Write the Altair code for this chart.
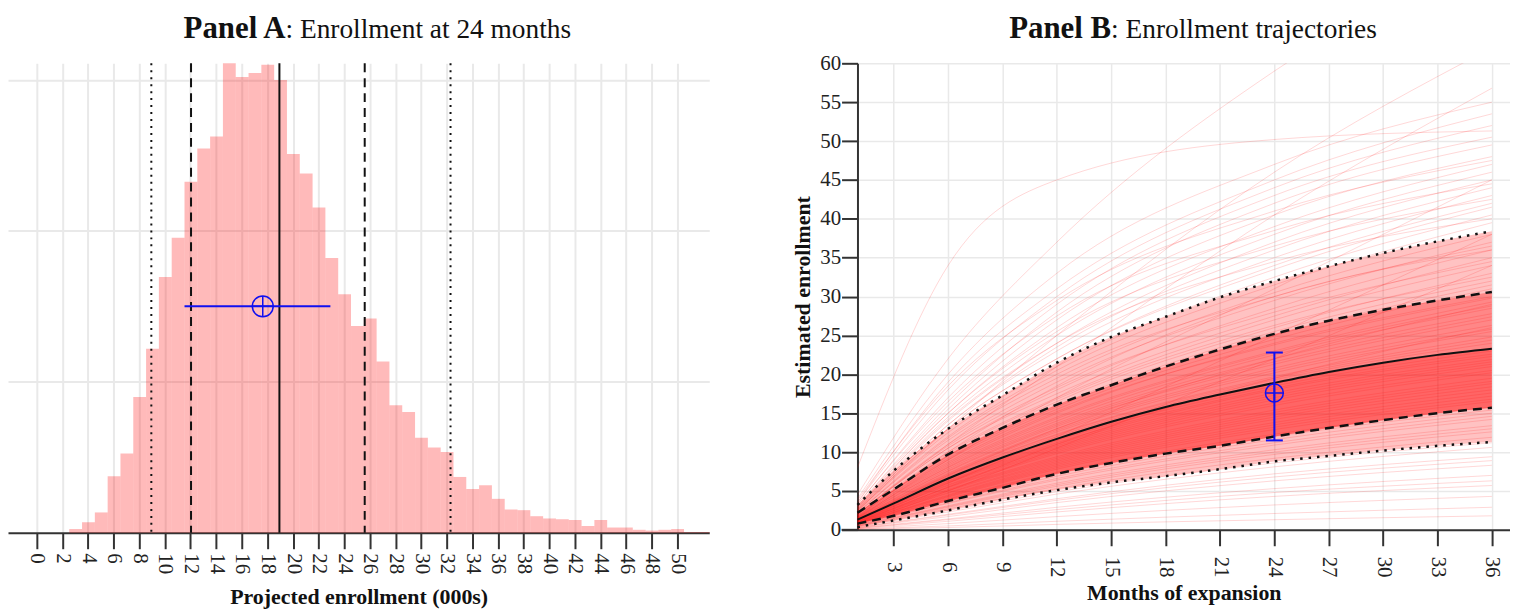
import altair as alt
import pandas as pd

FONT = "Liberation Serif"

# ---------------- Panel A data ----------------
hist_bin = list(range(3, 53))
hist_density = [0.0005, 0.0014, 0.0027, 0.0075, 0.0105, 0.0180, 0.0244, 0.0339, 0.0391, 0.0465,
                0.0509, 0.0525, 0.0622, 0.0604, 0.0609, 0.0620, 0.0600, 0.0502, 0.0476, 0.0431,
                0.0364, 0.0316, 0.0274, 0.0284, 0.0227, 0.0169, 0.0160, 0.0126, 0.0113, 0.0107,
                0.0074, 0.0058, 0.0063, 0.0045, 0.0031, 0.0030, 0.0022, 0.0019, 0.0018, 0.0017,
                0.0009, 0.0017, 0.0007, 0.0007, 0.0004, 0.0003, 0.0004, 0.0005, 0.0001, 0.0001]
a_dotted = [8.94, 32.3]
a_dashed = [12.04, 25.6]
a_median = [18.94]
a_mean, a_ci_lo, a_ci_hi, a_ci_y = 17.64, 11.53, 22.92, 0.030
a_xticks = list(range(0, 51, 2))
a_ygrid = [0.02, 0.04, 0.06]

# ---------------- Panel B data ----------------
months = [1, 3, 6, 9, 12, 15, 18, 21, 24, 27, 30, 33, 36]
q05 = [0.35, 1.2, 2.5, 3.9, 5.1, 6.1, 6.9, 7.8, 8.8, 9.5, 10.2, 10.8, 11.3]
q25 = [0.8, 1.8, 3.7, 5.4, 7.2, 8.6, 9.8, 10.8, 12.0, 13.1, 14.1, 15.0, 15.7]
q50 = [1.3, 3.4, 6.6, 9.3, 11.7, 13.9, 15.8, 17.4, 18.9, 20.3, 21.5, 22.5, 23.3]
q75 = [2.2, 5.2, 9.7, 13.1, 16.1, 18.6, 21.0, 23.2, 25.2, 26.9, 28.3, 29.5, 30.6]
q95 = [3.2, 7.6, 13.0, 17.3, 21.5, 24.8, 27.4, 29.9, 32.0, 33.9, 35.6, 37.1, 38.4]

traj_months = [1, 6, 12, 24, 36]
traj_values = [
    [8.0, 34.0, 45.0, 50.2, 51.3], [4.5, 22.0, 37.0, 59.0, 75.0], [2.5, 13.0, 25.0, 46.0, 62.0],
    [2.0, 11.0, 21.0, 40.5, 56.8], [4.0, 20.0, 33.0, 47.0, 55.0], [3.5, 19.0, 31.0, 45.0, 53.5],
    [3.5, 18.0, 30.0, 44.0, 52.0], [3.2, 17.0, 29.0, 43.0, 50.5], [3.0, 16.0, 28.0, 42.0, 49.5],
    [3.0, 15.5, 27.0, 40.5, 48.0], [2.8, 15.0, 26.0, 39.0, 47.0], [2.8, 14.5, 25.0, 38.0, 46.0],
    [2.6, 14.0, 24.0, 37.0, 45.0], [1.5, 9.0, 17.0, 31.0, 45.0], [2.6, 13.5, 23.5, 36.0, 44.0],
    [2.5, 13.5, 23.0, 35.0, 43.0], [2.4, 13.0, 22.0, 34.0, 42.0], [2.4, 13.0, 22.0, 33.5, 41.5],
    [2.3, 12.5, 21.0, 32.5, 40.5], [2.2, 12.0, 20.5, 31.5, 39.5], [1.0, 6.0, 12.0, 25.0, 38.0],
    [2.2, 11.5, 19.5, 30.5, 38.0], [2.0, 11.0, 19.0, 29.5, 37.0], [2.0, 10.5, 18.0, 28.5, 36.0],
    [1.9, 10.5, 17.5, 27.5, 35.0], [0.8, 5.0, 10.5, 22.0, 34.0], [1.8, 10.0, 17.0, 27.0, 34.0],
    [1.8, 9.5, 16.5, 26.0, 33.0], [1.7, 9.5, 16.0, 25.5, 32.0], [1.6, 9.0, 15.5, 24.5, 31.0],
    [1.6, 8.5, 15.0, 24.0, 30.0], [1.5, 8.3, 14.5, 23.0, 29.3], [1.5, 8.0, 14.0, 22.5, 28.5],
    [1.4, 7.8, 13.7, 22.0, 27.8], [1.4, 7.5, 13.3, 21.3, 27.0], [1.4, 7.3, 13.0, 20.8, 26.3],
    [1.3, 7.1, 12.6, 20.2, 25.5], [1.3, 7.0, 12.3, 19.7, 24.8], [1.3, 6.8, 12.0, 19.3, 24.0],
    [1.2, 6.5, 11.5, 18.5, 23.0], [1.2, 6.2, 11.0, 18.0, 22.3], [1.1, 6.0, 10.6, 17.3, 21.6],
    [1.1, 5.7, 10.2, 16.7, 21.0], [1.0, 5.4, 9.8, 16.0, 20.2], [1.0, 5.2, 9.4, 15.4, 19.5],
    [0.9, 5.0, 9.0, 14.8, 18.8], [0.9, 4.7, 8.6, 14.2, 18.0], [0.8, 4.4, 8.2, 13.5, 17.2],
    [0.8, 4.2, 7.8, 12.9, 16.5], [0.8, 4.0, 7.4, 12.3, 15.8], [0.7, 3.7, 6.9, 11.6, 15.0],
    [0.6, 3.4, 6.4, 10.9, 14.2], [0.6, 3.1, 6.0, 10.3, 13.4], [0.5, 2.9, 5.6, 9.7, 12.6],
    [0.5, 2.7, 5.3, 9.2, 11.9], [0.4, 2.3, 4.6, 8.1, 10.6], [0.35, 2.0, 4.0, 7.2, 9.4],
    [0.3, 1.7, 3.5, 6.3, 8.3], [0.25, 1.4, 2.9, 5.3, 7.0], [0.2, 1.1, 2.3, 4.3, 5.7],
    [0.15, 0.8, 1.7, 3.2, 4.3], [0.1, 0.5, 1.1, 2.1, 2.9], [0.1, 0.3, 0.7, 1.3, 1.8],
    [3.8, 18.5, 29.5, 41.0, 47.5], [3.3, 16.5, 27.5, 38.5, 44.5], [2.9, 15.0, 25.5, 36.5, 42.5],
    [2.7, 14.2, 24.0, 34.5, 40.0], [2.1, 11.8, 20.0, 30.0, 36.5], [1.9, 10.8, 18.3, 28.0, 34.5],
    [1.7, 9.8, 16.8, 26.3, 32.5], [1.6, 9.2, 15.8, 25.0, 31.5], [1.5, 8.7, 15.2, 23.8, 29.8],
    [1.45, 8.1, 14.3, 22.8, 28.8], [1.35, 7.6, 13.5, 21.6, 27.4], [1.3, 7.2, 12.8, 20.5, 25.8],
    [1.25, 6.9, 12.2, 19.5, 24.4], [1.2, 6.6, 11.7, 18.8, 23.4], [1.15, 6.3, 11.2, 18.2, 22.6],
    [1.1, 6.1, 10.8, 17.6, 21.9], [1.05, 5.8, 10.4, 17.0, 21.3], [1.0, 5.5, 10.0, 16.3, 20.5],
    [0.95, 5.1, 9.2, 15.1, 19.1], [0.9, 4.8, 8.8, 14.5, 18.4], [0.85, 4.5, 8.4, 13.8, 17.6],
    [0.8, 4.3, 8.0, 13.2, 16.8], [0.75, 3.9, 7.2, 12.0, 15.4], [0.65, 3.5, 6.6, 11.2, 14.6],
    [0.55, 3.0, 5.8, 10.0, 13.0], [0.45, 2.5, 4.9, 8.6, 11.2], [0.3, 1.9, 3.8, 6.8, 8.9],
    [0.2, 1.3, 2.6, 4.8, 6.3], [1.2, 7.0, 13.0, 22.0, 29.0], [0.9, 5.5, 11.0, 19.5, 26.0],
    [1.6, 10.0, 18.5, 30.0, 36.0],
]
b_mean, b_ci_lo, b_ci_hi, b_ci_x = 17.6, 11.5, 22.8, 24
b_xticks = list(range(3, 37, 3))
b_yticks = list(range(0, 61, 5))

titleA = ("Panel A", ": Enrollment at 24 months")
titleB = ("Panel B", ": Enrollment trajectories")
xtitleA = "Projected enrollment (000s)"
xtitleB = "Months of expansion"
ytitleB = "Estimated enrollment"

# ---------------- frames ----------------
hist_df = pd.DataFrame({"bin": hist_bin, "density": hist_density})
hist_df["lo"] = hist_df["bin"] - 0.47
hist_df["hi"] = hist_df["bin"] + 0.53
dot_df = pd.DataFrame({"x": a_dotted})
dash_df = pd.DataFrame({"x": a_dashed})
med_df = pd.DataFrame({"x": a_median})
ciA_df = pd.DataFrame({"lo": [a_ci_lo], "hi": [a_ci_hi], "m": [a_mean], "y": [a_ci_y]})

band_df = pd.DataFrame({"month": months, "q05": q05, "q25": q25, "q50": q50, "q75": q75,
                        "q95": q95})
q_long = pd.DataFrame(
    [{"month": m, "value": v, "q": name}
     for name, arr in [("q05", q05), ("q25", q25), ("q50", q50), ("q75", q75), ("q95", q95)]
     for m, v in zip(months, arr)])
traj_df = pd.DataFrame(
    [{"id": i, "month": m, "value": v}
     for i, vals in enumerate(traj_values) for m, v in zip(traj_months, vals)])
ciB_df = pd.DataFrame({"x": [b_ci_x], "lo": [b_ci_lo], "hi": [b_ci_hi], "m": [b_mean]})
capB_df = pd.DataFrame({"x": [b_ci_x, b_ci_x], "y": [b_ci_lo, b_ci_hi]})
tA_df = pd.DataFrame({"b": [titleA[0]], "r": [titleA[1]]})
tB_df = pd.DataFrame({"b": [titleB[0]], "r": [titleB[1]]})

GRID = "#e9e9e9"
AX = "#333333"
BLUE = "#1010f0"
PLUS = "M-1,0L1,0M0,-1L0,1"
TY = -25  # title baseline, relative to plot top

# ---------------- Panel A ----------------
WA, HA = 705, 472
axisAx = alt.Axis(values=a_xticks, grid=True, gridColor=GRID, gridWidth=2, domainColor=AX,
                  domainWidth=2, tickColor=AX, tickWidth=2, tickSize=16, labelAngle=90,
                  labelAlign="left", labelBaseline="middle",
                  labelFont=FONT, labelFontSize=21, labelColor="#222", labelPadding=4,
                  labelOverlap=False, labelFlush=False,
                  title=xtitleA, titleFont=FONT, titleFontSize=22, titleFontWeight="bold",
                  titleColor="#111", titlePadding=13)
axisAy = alt.Axis(values=a_ygrid, grid=True, gridColor=GRID, gridWidth=2, domain=False,
                  ticks=False, labels=False, title="")
scAx = alt.Scale(domain=[-2.25, 52.5], nice=False, zero=False)
scAy = alt.Scale(domain=[0, 0.0622], nice=False, zero=False)


def xA(f):
    return alt.X(f, type="quantitative", scale=scAx, axis=axisAx)


def yA(f):
    return alt.Y(f, type="quantitative", scale=scAy, axis=axisAy)


bars = alt.Chart(hist_df).mark_rect(color="#ff0000", opacity=0.27).encode(
    x=xA("lo"), x2="hi:Q", y=yA("density"), y2=alt.datum(0))
vdot = alt.Chart(dot_df).mark_rule(color="#111", strokeWidth=2, strokeDash=[2, 5]).encode(x=xA("x"))
vdash = alt.Chart(dash_df).mark_rule(color="#111", strokeWidth=2, strokeDash=[9, 6]).encode(x=xA("x"))
vmed = alt.Chart(med_df).mark_rule(color="#111", strokeWidth=2).encode(x=xA("x"))
ciA = alt.Chart(ciA_df).mark_rule(color=BLUE, strokeWidth=2).encode(x=xA("lo"), x2="hi:Q", y=yA("y"))
ciA_c = alt.Chart(ciA_df).mark_point(shape="circle", size=441, filled=False, color=BLUE,
                                      strokeWidth=1.5, opacity=1).encode(x=xA("m"), y=yA("y"))
ciA_p = alt.Chart(ciA_df).mark_point(shape=PLUS, size=441, filled=False, color=BLUE,
                                      strokeWidth=1.5, opacity=1).encode(x=xA("m"), y=yA("y"))
tA1 = alt.Chart(tA_df).mark_text(font=FONT, fontSize=31, fontWeight="bold", align="right",
                                 baseline="alphabetic", color="#111").encode(
    x=alt.value(279), y=alt.value(TY), text="b:N")
tA2 = alt.Chart(tA_df).mark_text(font=FONT, fontSize=27.5, align="left",
                                 baseline="alphabetic", color="#111").encode(
    x=alt.value(279), y=alt.value(TY), text="r:N")

panelA = alt.layer(bars, vdot, vdash, vmed, ciA, ciA_c, ciA_p, tA1, tA2).properties(
    width=WA, height=HA)

# ---------------- Panel B ----------------
WB, HB = 656, 469
axisBx = alt.Axis(values=b_xticks, grid=True, gridColor=GRID, gridWidth=1.5, domainColor=AX,
                  domainWidth=2, tickColor=AX, tickWidth=2, tickSize=16, labelAngle=90,
                  labelAlign="center", labelBaseline="middle",
                  labelFont=FONT, labelFontSize=21, labelColor="#222", labelPadding=21,
                  labelOverlap=False, labelFlush=False,
                  title=xtitleB, titleFont=FONT, titleFontSize=22, titleFontWeight="bold",
                  titleColor="#111", titlePadding=6)
axisBy = alt.Axis(values=b_yticks, grid=True, gridColor=GRID, gridWidth=1.5, domainColor=AX,
                  domainWidth=2, tickColor=AX, tickWidth=2, tickSize=16, labelAngle=0,
                  labelFont=FONT, labelFontSize=21, labelColor="#222", labelPadding=1,
                  labelOverlap=False, labelFlush=False,
                  title=ytitleB, titleFont=FONT, titleFontSize=22, titleFontWeight="bold",
                  titleColor="#111", titlePadding=5)
scBx = alt.Scale(domain=[1, 37], nice=False, zero=False)
scBy = alt.Scale(domain=[0, 60], nice=False, zero=False)


def xB(f):
    return alt.X(f, type="quantitative", scale=scBx, axis=axisBx)


def yB(f):
    return alt.Y(f, type="quantitative", scale=scBy, axis=axisBy)


b95 = alt.Chart(band_df).mark_area(color="#ff0000", opacity=0.24, interpolate="monotone").encode(
    x=xB("month"), y=yB("q05"), y2="q95:Q")
b75 = alt.Chart(band_df).mark_area(color="#ff0000", opacity=0.3, interpolate="monotone").encode(
    x=xB("month"), y=yB("q25"), y2="q75:Q")
bcore = alt.Chart(band_df).mark_area(color="#ff0000", opacity=0.25, interpolate="monotone").encode(
    x=xB("month"), y=yB("q25"), y2="q50:Q")
lines = alt.Chart(traj_df).mark_line(color="#ff1010", strokeWidth=1, opacity=0.17,
                                     interpolate="monotone", clip=True).encode(
    x=xB("month"), y=yB("value"), detail="id:N")
qdot = alt.Chart(q_long).transform_filter(
    alt.FieldOneOfPredicate(field="q", oneOf=["q05", "q95"])).mark_line(
    color="#111", strokeWidth=2.5, strokeDash=[2.5, 6], interpolate="monotone").encode(
    x=xB("month"), y=yB("value"), detail="q:N")
qdash = alt.Chart(q_long).transform_filter(
    alt.FieldOneOfPredicate(field="q", oneOf=["q25", "q75"])).mark_line(
    color="#111", strokeWidth=2.5, strokeDash=[9, 6], interpolate="monotone").encode(
    x=xB("month"), y=yB("value"), detail="q:N")
qmed = alt.Chart(q_long).transform_filter(alt.datum.q == "q50").mark_line(
    color="#111", strokeWidth=2, interpolate="monotone").encode(x=xB("month"), y=yB("value"))
ciB = alt.Chart(ciB_df).mark_rule(color=BLUE, strokeWidth=2).encode(x=xB("x"), y=yB("lo"), y2="hi:Q")
capB = alt.Chart(capB_df).mark_tick(orient="horizontal", color=BLUE, size=17, thickness=2,
                                    opacity=1).encode(x=xB("x"), y=yB("y"))
ciB_c = alt.Chart(ciB_df).mark_point(shape="circle", size=324, filled=False, color=BLUE,
                                      strokeWidth=1.5, opacity=1).encode(x=xB("x"), y=yB("m"))
ciB_p = alt.Chart(ciB_df).mark_point(shape=PLUS, size=324, filled=False, color=BLUE,
                                      strokeWidth=1.5, opacity=1).encode(x=xB("x"), y=yB("m"))
ext = alt.Chart(tB_df).mark_rule(color=AX, strokeWidth=2).encode(
    x=alt.value(-16), x2=alt.value(0), y=alt.value(HB))
tB1 = alt.Chart(tB_df).mark_text(font=FONT, fontSize=31, fontWeight="bold", align="right",
                                 baseline="alphabetic", color="#111").encode(
    x=alt.value(255), y=alt.value(TY), text="b:N")
tB2 = alt.Chart(tB_df).mark_text(font=FONT, fontSize=27.5, align="left",
                                 baseline="alphabetic", color="#111").encode(
    x=alt.value(255), y=alt.value(TY), text="r:N")

panelB = alt.layer(b95, b75, bcore, lines, qdot, qdash, qmed, ciB, capB, ciB_c, ciB_p,
                   ext, tB1, tB2).properties(width=WB, height=HB)

chart = alt.hconcat(panelA, panelB, spacing=82).properties(
    padding={"top": 4, "left": 0, "right": 0, "bottom": 0},
    background="white").configure_view(stroke=None)

chart.save("out.html", embed_options={"renderer": "svg", "actions": False})
